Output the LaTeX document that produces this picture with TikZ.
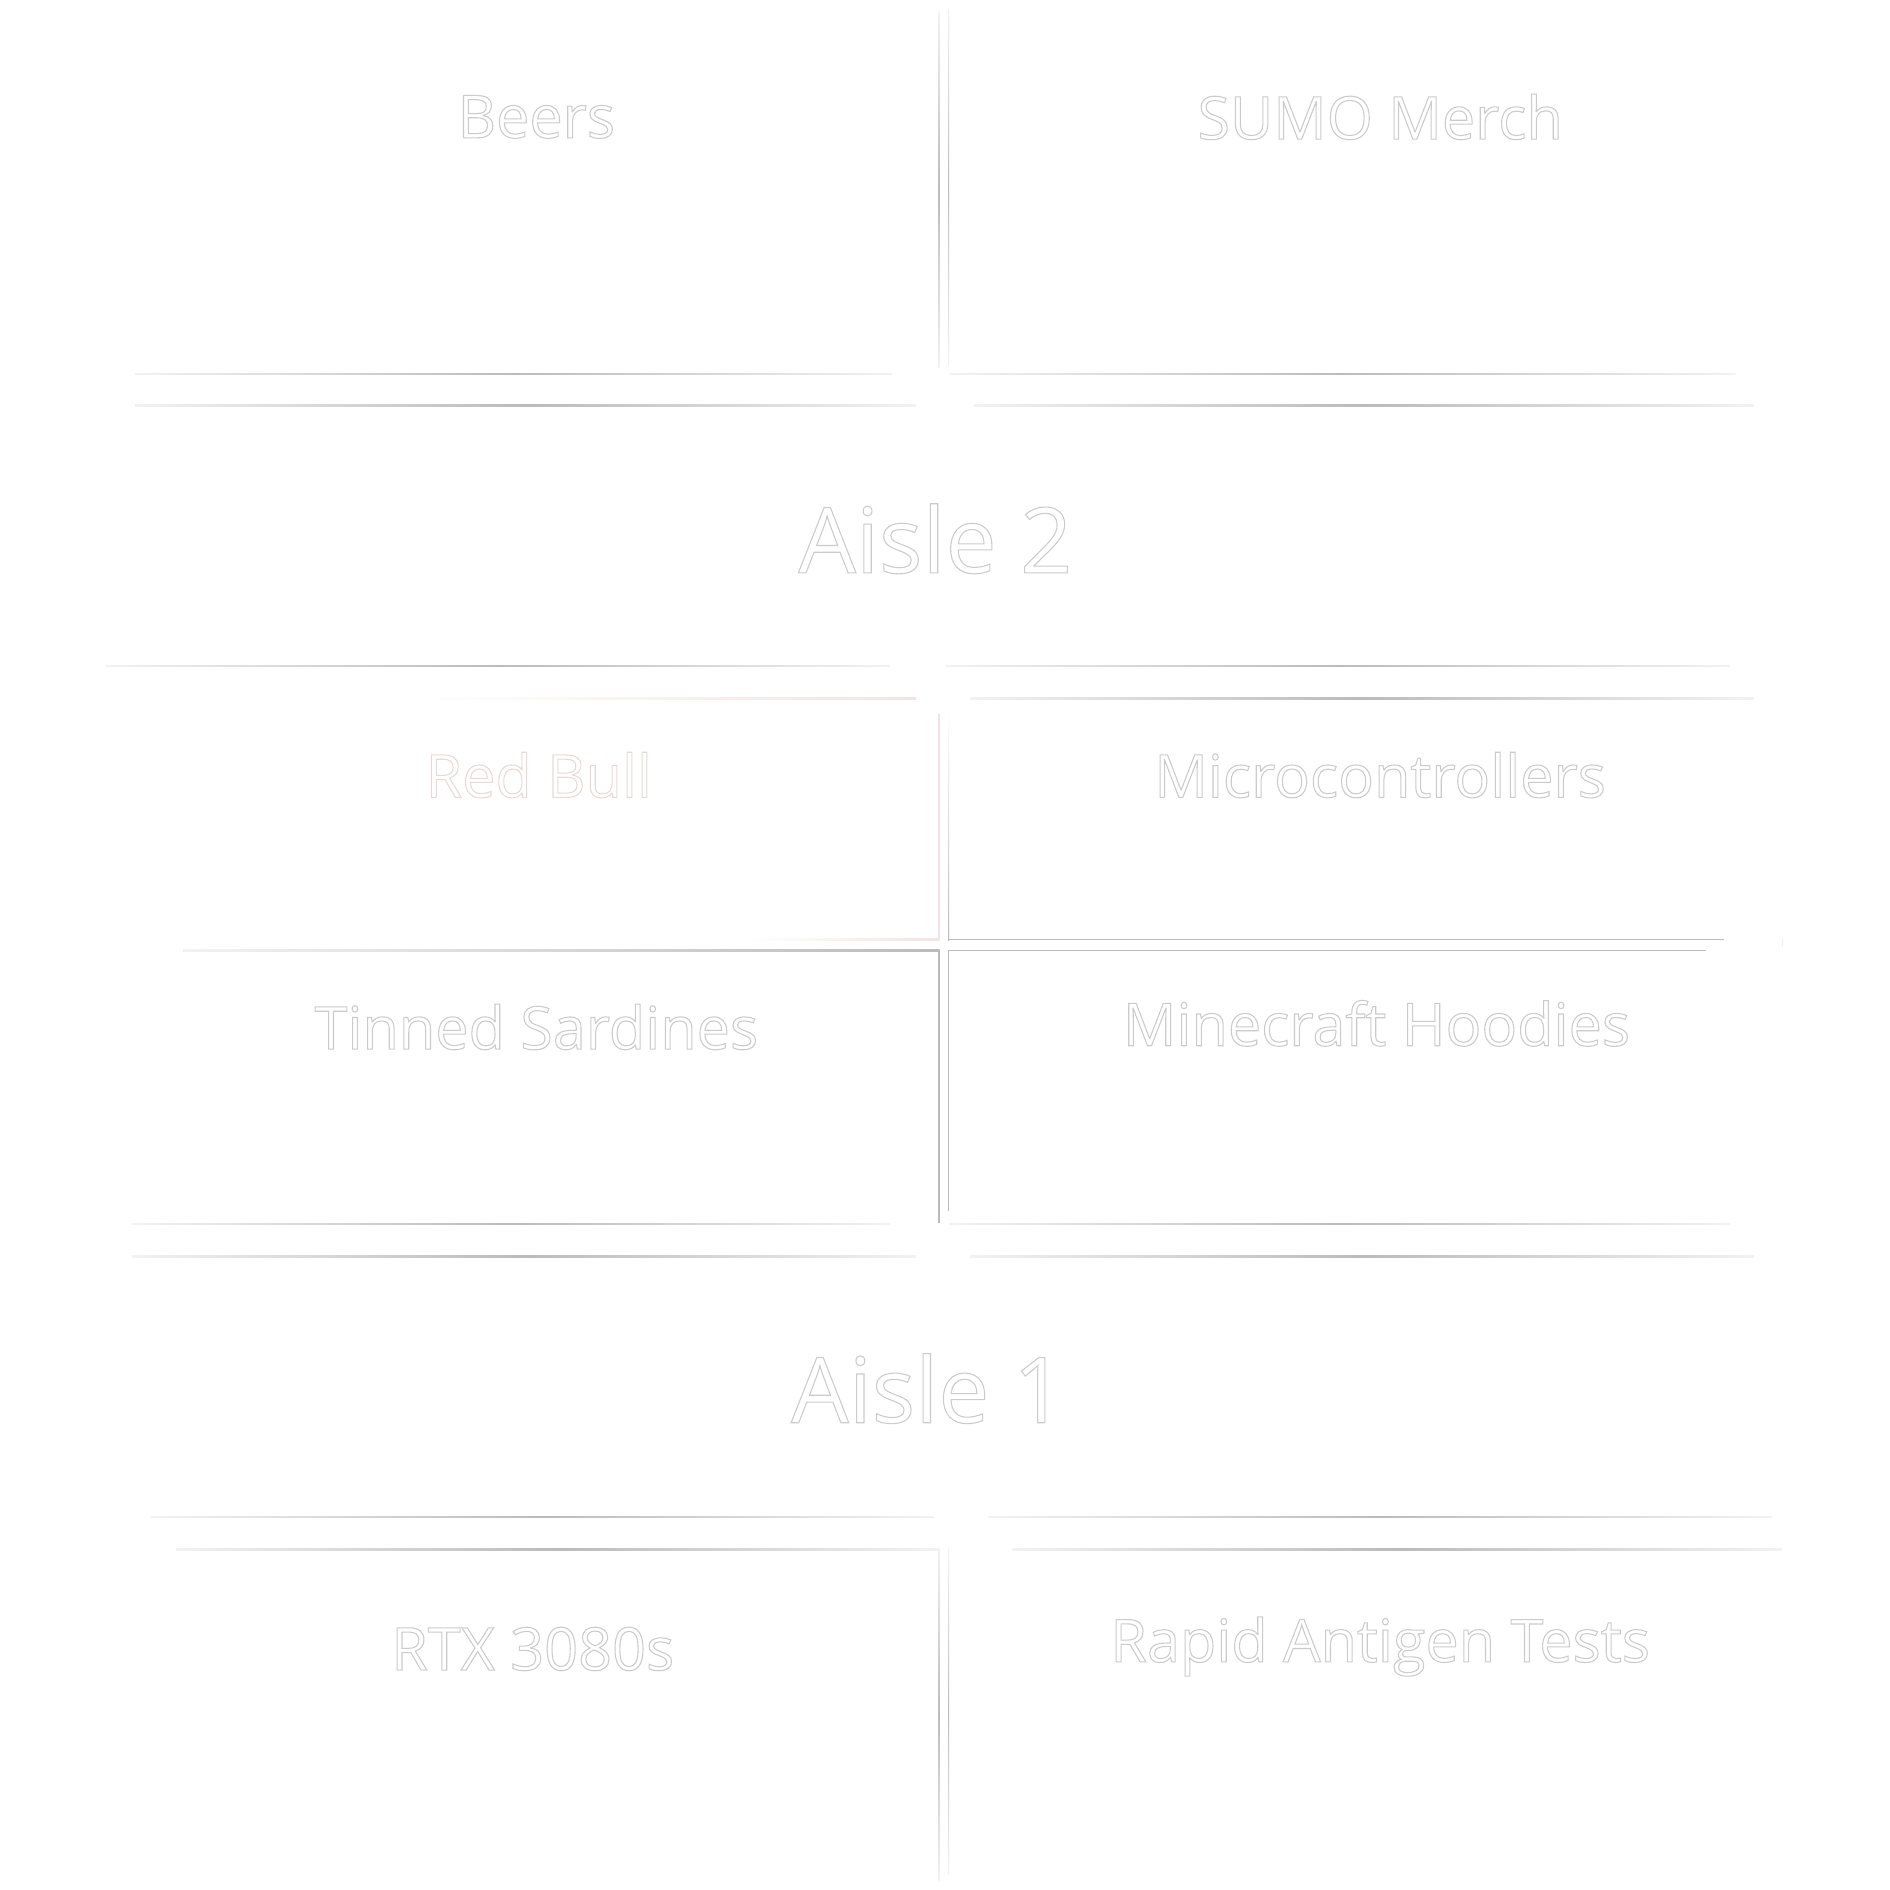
\documentclass[tikz,border=0pt]{standalone}
\usepackage{fontspec}
\setmainfont{Open Sans}
\usepackage{xcolor}
\usetikzlibrary{shadings}

\definecolor{shelfgray}{HTML}{BBBBBB}
\definecolor{fadegray}{HTML}{F2F2F2}
\definecolor{labelgray}{HTML}{CBCBCB}
\definecolor{labelpink}{HTML}{EAD8D8}
\definecolor{shelfpink}{HTML}{F1E4E4}

% outlined text (stroke only)
\newcommand{\outlined}[1]{\special{pdf:literal direct 1 Tr 0.25 w}#1\special{pdf:literal direct 0 Tr}}

\tikzset{
  hline/.style={left color=fadegray, right color=fadegray, middle color=shelfgray},
  vline/.style={top color=fadegray, bottom color=fadegray, middle color=shelfgray},
  shelflabel/.style={text=labelgray, font=\fontsize{14}{16}\selectfont},
  aislelabel/.style={text=labelgray, font=\fontsize{21.5}{24}\selectfont},
}

\begin{document}
\begin{tikzpicture}
  \useasboundingbox (0,0) rectangle (15.68,-15.68);
  \fill[white] (0,0) rectangle (15.68,-15.68);

  % Top shelves
  \shade[vline] (7.785,-0.10) rectangle (7.795,-3.05);
  \shade[vline] (7.865,-0.08) rectangle (7.875,-3.02);
  \node[shelflabel] (beers) at (4.45,-0.97) {\outlined{Beers}};
  \node[shelflabel] (sumo) at (11.45,-0.97) {\outlined{SUMO Merch}};
  \shade[hline] (1.12,-3.10) rectangle (7.40,-3.11);
  \shade[hline] (7.88,-3.10) rectangle (14.40,-3.11);
  \shade[hline] (1.12,-3.36) rectangle (7.60,-3.37);
  \shade[hline] (8.08,-3.36) rectangle (14.55,-3.37);

  % Aisle 2
  \node[aislelabel] (aisle2) at (7.76,-4.47) {\outlined{Aisle 2}};
  \shade[hline] (0.88,-5.52) rectangle (7.38,-5.53);
  \shade[hline] (7.85,-5.52) rectangle (14.35,-5.53);
  \shade[left color=white, right color=shelfpink] (3.43,-5.79) rectangle (7.60,-5.80);
  \shade[hline] (8.05,-5.79) rectangle (14.55,-5.80);

  % Middle shelves
  \fill[shelfpink] (7.785,-5.92) rectangle (7.795,-7.80);
  \shade[left color=white, right color=shelfpink] (6.20,-7.79) rectangle (7.795,-7.80);
  \shade[top color=white, bottom color=shelfgray] (7.865,-5.88) rectangle (7.875,-7.80);
  \fill[shelfgray] (7.865,-7.79) rectangle (14.30,-7.80);
  \fill[fadegray] (14.78,-7.78) rectangle (14.79,-7.86);
  \shade[left color=fadegray, right color=shelfgray] (1.52,-7.88) rectangle (7.795,-7.89);
  \fill[shelfgray] (7.865,-7.88) rectangle (14.15,-7.89);
  \fill[shelfgray] (7.785,-7.88) rectangle (7.795,-10.15);
  \fill[shelfgray] (7.865,-7.88) rectangle (7.875,-10.05);
  \node[shelflabel, text=labelpink] (redbull) at (4.47,-6.43) {\outlined{Red Bull}};
  \node[shelflabel] (micro) at (11.45,-6.43) {\outlined{Microcontrollers}};
  \node[shelflabel] (sardines) at (4.45,-8.52) {\outlined{Tinned Sardines}};
  \node[shelflabel] (hoodies) at (11.42,-8.49) {\outlined{Minecraft Hoodies}};
  \shade[hline] (1.10,-10.15) rectangle (7.38,-10.16);
  \shade[hline] (7.88,-10.15) rectangle (14.35,-10.16);
  \shade[hline] (1.10,-10.42) rectangle (7.60,-10.43);
  \shade[hline] (8.05,-10.42) rectangle (14.55,-10.43);

  % Aisle 1
  \node[aislelabel] (aisle1) at (7.70,-11.52) {\outlined{Aisle 1}};
  \shade[hline] (1.25,-12.58) rectangle (7.75,-12.59);
  \shade[hline] (8.20,-12.58) rectangle (14.70,-12.59);
  \shade[hline] (1.46,-12.85) rectangle (7.78,-12.86);
  \shade[hline] (8.40,-12.85) rectangle (14.78,-12.86);

  % Bottom shelves
  \shade[vline] (7.785,-12.85) rectangle (7.795,-15.60);
  \shade[vline] (7.865,-12.85) rectangle (7.875,-15.55);
  \node[shelflabel] (rtx) at (4.42,-13.68) {\outlined{RTX 3080s}};
  \node[shelflabel] (rat) at (11.45,-13.66) {\outlined{Rapid Antigen Tests}};
\end{tikzpicture}
\end{document}
